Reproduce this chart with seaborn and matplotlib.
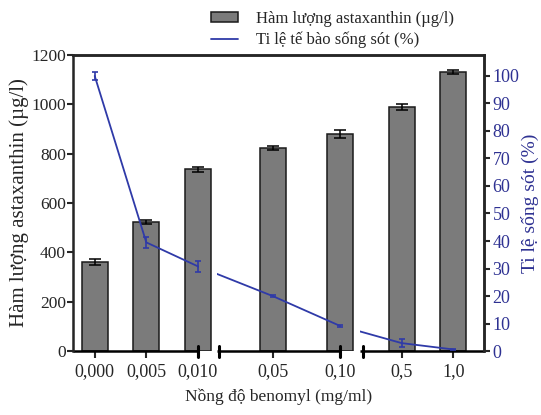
import numpy as np
import pandas as pd
import seaborn as sns
import matplotlib.pyplot as plt
import matplotlib.transforms as mtransforms
from matplotlib.patches import Patch, Rectangle
from matplotlib.lines import Line2D


concentrations = ["0,000", "0,005", "0,010", "0,05", "0,10", "0,5", "1,0"]
astaxanthin = [362, 523, 736, 823, 880, 990, 1132]
astaxanthin_sd = [12, 8, 12, 9, 16, 12, 8]
survival = [100, 39.5, 30.8, 20.0, 9.2, 2.9, 0.6]
survival_sd = [1.5, 2.0, 2.0, 0.4, 0.4, 1.5, 0.3]

# layout of the broken x axis (category slots)
positions = [0, 1, 2, 3.45, 4.75, 5.95, 6.95]
x_limits = (-0.42, 7.55)
segments = [(x_limits[0], 2.02), (2.38, 4.76), (5.14, x_limits[1])]

BAR_COLOR = "#7b7b7b"
LINE_COLOR = "#2f3aa8"
NAVY = "#2e3192"


def setup_theme() -> None:
    sns.set_style("ticks")
    plt.rcParams["font.family"] = ["Liberation Serif", "DejaVu Serif"]


def main() -> None:
    setup_theme()
    df = pd.DataFrame({"pos": positions, "asta": astaxanthin, "surv": survival})

    fig = plt.figure(figsize=(5.41, 4.15), dpi=100)
    ax = fig.add_axes([0.135, 0.154, 0.76, 0.7135])

    sns.barplot(data=df, x="pos", y="asta", native_scale=True, width=0.5,
                color=BAR_COLOR, edgecolor="#1a1a1a", linewidth=1.1,
                saturation=1, ax=ax)
    ax.errorbar(positions, astaxanthin, yerr=astaxanthin_sd, fmt="none",
                ecolor="black", elinewidth=1.1, capsize=4, capthick=1.1)

    ax.set_xlim(*x_limits)
    ax.set_ylim(0, 1200)
    ax.set_yticks(range(0, 1201, 200))
    ax.set_xticks(positions)
    ax.set_xticklabels(concentrations)
    ax.tick_params(axis="y", direction="out", length=4, width=1.5, labelsize=12.5, pad=1)
    ax.tick_params(axis="x", direction="out", length=5, width=1.5, labelsize=13, pad=4)
    ax.set_xlabel("Nồng độ benomyl (mg/ml)", fontsize=12.5, labelpad=6)
    ax.set_ylabel("Hàm lượng astaxanthin (µg/l)", fontsize=15, labelpad=2)

    for side in ["left", "top", "right"]:
        ax.spines[side].set_linewidth(1.8)
    ax.spines["bottom"].set_visible(False)

    # broken bottom axis
    trans = mtransforms.blended_transform_factory(ax.transData, ax.transAxes)
    for x0, x1 in segments:
        ax.plot([x0, x1], [0, 0], color="black", lw=1.8, transform=trans,
                clip_on=False, solid_capstyle="butt")
    for xb in [2.0, 2.4, 4.75, 5.2]:
        ax.plot([xb, xb], [-0.02, 0.018], color="black", lw=2.2,
                transform=trans, clip_on=False)

    ax2 = ax.twinx()
    for x0, x1 in segments:
        sns.lineplot(data=df, x="pos", y="surv", sort=False, color=LINE_COLOR,
                     linewidth=1.3, ax=ax2)
        ax2.lines[-1].set_clip_path(Rectangle((x0, 0), x1 - x0, 1, transform=trans))
    ax2.errorbar(positions, survival, yerr=survival_sd, fmt="none",
                 ecolor=LINE_COLOR, elinewidth=1.2, capsize=2.5, capthick=1.2)
    ax2.set_ylim(0, 107.6)
    ax2.set_yticks(range(0, 101, 10))
    ax2.tick_params(axis="y", direction="out", length=4, width=1.5,
                    labelsize=13, labelcolor=NAVY, pad=2)
    ax2.set_ylabel("Ti lệ sống sót (%)", fontsize=14, color=NAVY, labelpad=1)
    ax2.set_xlabel("")
    ax2.spines["bottom"].set_visible(False)
    ax2.spines["right"].set_linewidth(1.8)
    ax2.spines["top"].set_linewidth(1.8)

    handles = [
        Patch(facecolor=BAR_COLOR, edgecolor="#1a1a1a", linewidth=1.1),
        Line2D([], [], color=LINE_COLOR, linewidth=1.3),
    ]
    labels = ["Hàm lượng astaxanthin (µg/l)", "Ti lệ tế bào sống sót (%)"]
    fig.legend(handles, labels, loc="upper left", bbox_to_anchor=(0.362, 1.01),
               frameon=False, fontsize=12, handlelength=1.6, handleheight=0.55,
               labelspacing=0.3, handletextpad=1.1)

    fig.savefig("out.png", dpi=100)
    plt.close(fig)


if __name__ == "__main__":
    main()
